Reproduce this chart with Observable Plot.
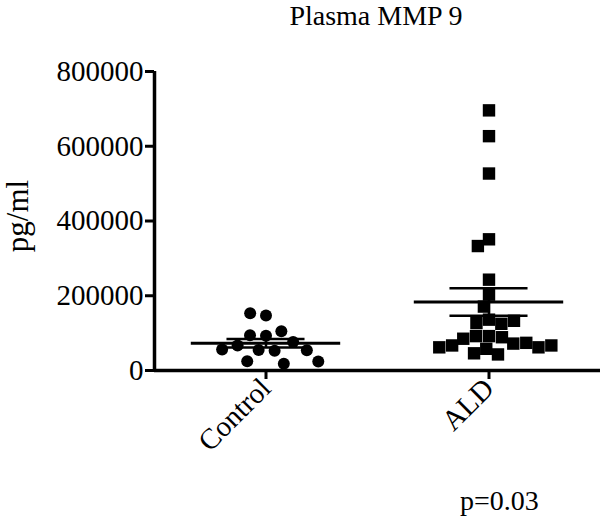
<!DOCTYPE html>
<html>
<head>
<meta charset="utf-8">
<script src="https://cdn.jsdelivr.net/npm/d3@7"></script>
<script src="https://cdn.jsdelivr.net/npm/@observablehq/plot@0.6"></script>
<style>
  body { margin: 0; background: #fff; }
  #wrap { position: relative; width: 608px; font-family: "Liberation Serif", "Times New Roman", serif; color: #000; }
  #title { position: relative; height: 40px; }
  #title span { position: absolute; left: 376px; top: 1px; transform: translateX(-50%); font-size: 28px; line-height: 30px; white-space: nowrap; }
  #ylabel { position: absolute; left: 17px; top: 216px; transform: translate(-50%, -50%) rotate(-90deg); font-size: 31px; line-height: 31px; white-space: nowrap; }
  #caption { position: relative; height: 36px; }
  #caption span { position: absolute; left: 460px; top: 6px; font-size: 28px; line-height: 30px; white-space: nowrap; }
  svg { display: block; }
</style>
</head>
<body>
<div id="wrap">
  <div id="title"><span>Plasma MMP 9</span></div>
  <div id="chart"></div>
  <div id="caption"><span>p=0.03</span></div>
  <div id="ylabel"></div>
</div>
<script>
const groups = ["Control", "ALD"];
const controlValues = [147000, 153000, 93000, 94000, 105000, 76000, 67000, 55000, 53000, 54000, 56000, 25000, 18000, 24000];
const aldValues = [696000, 627000, 527000, 351000, 333000, 243000, 203000, 171000, 136000, 127000, 125000, 133000,
  92000, 92000, 89000, 85000, 72000, 74000, 67000, 62000, 58000, 43000, 46000, 62000, 67000];
const yTicks = [0, 200000, 400000, 600000, 800000];
const yLabel = "pg/ml";

document.getElementById("ylabel").textContent = yLabel;

const control = controlValues.map(v => ({group: "Control", value: v}));
const ald = aldValues.map(v => ({group: "ALD", value: v}));
const stats = [["Control", controlValues], ["ALD", aldValues]].map(([g, vals]) => {
  const mean = d3.mean(vals);
  const sem = d3.deviation(vals) / Math.sqrt(vals.length);
  return {group: g, mean, lo: mean - sem, hi: mean + sem};
});

const chart = Plot.plot({
  width: 608,
  height: 440,
  marginLeft: 153,
  marginRight: 8,
  marginTop: 31,
  marginBottom: 110,
  style: {fontFamily: "'Liberation Serif', 'Times New Roman', serif", color: "#000", background: "#fff"},
  fx: {domain: groups, padding: 0},
  x: {domain: [-1, 1], axis: null},
  y: {domain: [0, 800000]},
  marks: [
    Plot.axisY({ticks: yTicks, tickFormat: d => String(d), tickSize: 9, strokeWidth: 3, tickPadding: 2,
      fontSize: 29, label: null}),
    Plot.axisFx({anchor: "bottom", tickSize: 9, strokeWidth: 3, tickRotate: -45, fontSize: 29, label: null, tickPadding: 4}),
    Plot.ruleY([0], {strokeWidth: 3.5}),
    Plot.ruleX([{group: "Control", x: -1}], {fx: "group", x: "x", y1: 0, y2: 800000, strokeWidth: 3.5}),
    Plot.dot(control, Plot.dodgeX({anchor: "middle", padding: 4}, {fx: "group", y: "value", r: 6, fill: "black", symbol: "circle"})),
    Plot.dot(ald, Plot.dodgeX({anchor: "middle", padding: -1}, {fx: "group", y: "value", r: 7, fill: "black", symbol: "square"})),
    Plot.ruleY(stats, {fx: "group", y: "mean", x1: -0.67, x2: 0.67, stroke: "black", strokeWidth: 3}),
    Plot.ruleY(stats, {fx: "group", y: "hi", x1: -0.35, x2: 0.35, stroke: "black", strokeWidth: 2.5}),
    Plot.ruleY(stats, {fx: "group", y: "lo", x1: -0.35, x2: 0.35, stroke: "black", strokeWidth: 2.5}),
    Plot.ruleX(stats, {fx: "group", x: 0, y1: "lo", y2: "hi", stroke: "black", strokeWidth: 2.5})
  ]
});
document.getElementById("chart").appendChild(chart);
</script>
</body>
</html>
